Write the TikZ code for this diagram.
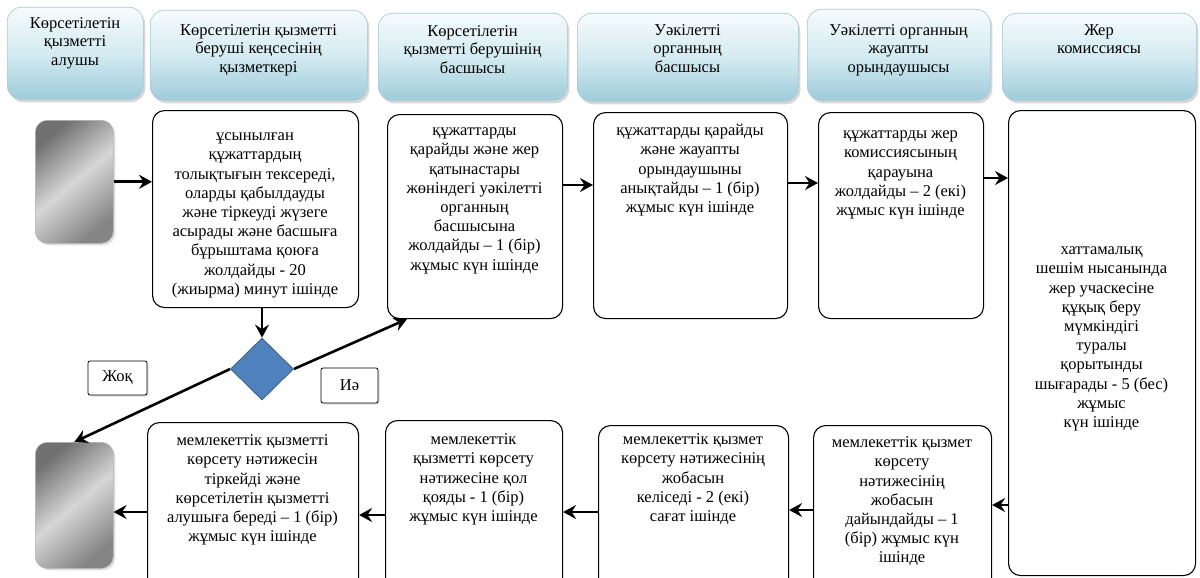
\documentclass[tikz,border=0pt]{standalone}
\usepackage{fontspec}
\setmainfont{Liberation Serif}
\usetikzlibrary{arrows.meta,shapes.geometric,shadows,calc}
\definecolor{hdrtop}{RGB}{246,251,252}
\definecolor{hdrmid}{RGB}{212,235,241}
\definecolor{hdrbot}{RGB}{158,204,218}
\definecolor{hdredge}{RGB}{170,198,208}
\definecolor{dmfill}{RGB}{79,129,189}
\definecolor{dmedge}{RGB}{56,93,138}
\begin{document}
\begin{tikzpicture}[x=1pt,y=-1pt,
  hdr/.style={draw=hdredge, line width=0.6pt, rounded corners=14pt,
    top color=hdrtop, bottom color=hdrbot, middle color=hdrmid,
    drop shadow={shadow xshift=2pt,shadow yshift=-3pt,opacity=0.3},
    anchor=north west, inner sep=0pt},
  bx/.style={draw=black, line width=1.1pt, rounded corners=12pt, fill=white,
    anchor=north west, inner sep=0pt},
  gbox/.style={draw=black!30, line width=0.6pt, rounded corners=12pt,
    top color=black!56, bottom color=black!48, middle color=black!16,
    shading angle=40,
    drop shadow={shadow xshift=2pt,shadow yshift=-2pt,opacity=0.25},
    anchor=north west, inner sep=0pt},
  txt/.style={anchor=north, align=center, inner sep=0pt,
    font=\fontsize{16.5}{19.2}\selectfont},
  htxt/.style={anchor=north, align=center, inner sep=0pt,
    font=\fontsize{16.5}{18.5}\selectfont},
  lbl/.style={draw=black, line width=0.8pt, rounded corners=2pt, fill=white,
    inner sep=0pt, font=\fontsize{16.5}{18}\selectfont,
    drop shadow={shadow xshift=1.5pt,shadow yshift=-1.5pt,opacity=0.25}},
  arr/.style={line width=2.8pt, -{Stealth[length=13pt,width=14pt,inset=4.5pt]}},
  dline/.style={line width=2.6pt, -{Stealth[length=13pt,width=14pt,inset=4.5pt]}}
]
\clip (0,0) rectangle (1200,578);
\fill[white] (0,0) rectangle (1200,578);

% header row
\node[hdr, minimum width=136pt, minimum height=92pt] (h1) at (7,7) {};
\node[hdr, minimum width=217pt, minimum height=90pt] (h2) at (150,10) {};
\node[hdr, minimum width=189pt, minimum height=87pt] (h3) at (378,13) {};
\node[hdr, minimum width=221pt, minimum height=88pt] (h4) at (577,13) {};
\node[hdr, minimum width=183pt, minimum height=91pt] (h5) at (807,9) {};
\node[hdr, minimum width=194pt, minimum height=87pt] (h6) at (1002,13) {};

\node[htxt] (th1) at (75,15) {\strut Көрсетілетін\\қызметті\\алушы};
\node[htxt] (th2) at (258.5,22) {\strut Көрсетілетін қызметті\\беруші кеңсесінің\\қызметкері};
\node[htxt] (th3) at (472.5,23) {\strut Көрсетілетін\\қызметті берушінің\\басшысы};
\node[htxt] (th4) at (687.5,22) {\strut Уәкілетті\\органның\\басшысы};
\node[htxt] (th5) at (898.5,22) {\strut Уәкілетті органның\\жауапты\\орындаушысы};
\node[htxt] (th6) at (1099,22) {\strut Жер\\комиссиясы};

% gray terminals
\node[gbox, minimum width=78pt, minimum height=123pt] (g1) at (35,120) {};
\node[gbox, minimum width=78pt, minimum height=126pt] (g2) at (35,442) {};

% process boxes, row 2
\node[bx, minimum width=206pt, minimum height=197pt] (b1) at (152,110) {};
\node[bx, minimum width=175pt, minimum height=204pt] (b2) at (387,114) {};
\node[bx, minimum width=194pt, minimum height=206pt] (b3) at (593,112) {};
\node[bx, minimum width=165pt, minimum height=206pt] (b4) at (818,112) {};
\node[bx, minimum width=187pt, minimum height=465pt] (b5) at (1008,110) {};

% process boxes, row 3
\node[bx, minimum width=211pt, minimum height=170pt] (c1) at (147,422) {};
\node[bx, minimum width=177pt, minimum height=172pt] (c2) at (385,420) {};
\node[bx, minimum width=190pt, minimum height=167pt] (c3) at (598,425) {};
\node[bx, minimum width=178pt, minimum height=167pt] (c4) at (813,425) {};

% texts
\node[txt] (tb1) at (255,127) {\strut ұсынылған\\құжаттардың\\толықтығын тексереді,\\оларды қабылдауды\\және тіркеуді жүзеге\\асырады және басшыға\\бұрыштама қоюға\\жолдайды - 20\\(жиырма) минут ішінде};
\node[txt] (tb2) at (474.5,122) {\strut құжаттарды\\қарайды және жер\\қатынастары\\жөніндегі уәкілетті\\органның\\басшысына\\жолдайды – 1 (бір)\\жұмыс күн ішінде};
\node[txt] (tb3) at (690,122) {\strut құжаттарды қарайды\\және жауапты\\орындаушыны\\анықтайды – 1 (бір)\\жұмыс күн ішінде};
\node[txt] (tb4) at (900.5,125) {\strut құжаттарды жер\\комиссиясының\\қарауына\\жолдайды – 2 (екі)\\жұмыс күн ішінде};
\node[txt] (tb5) at (1101.5,241) {\strut хаттамалық\\шешім нысанында\\жер учаскесіне\\құқық беру\\мүмкіндігі\\туралы\\қорытынды\\шығарады - 5 (бес)\\жұмыс\\күн ішінде};
\node[txt] (tc1) at (252.5,432) {\strut мемлекеттік қызметті\\көрсету нәтижесін\\тіркейді және\\көрсетілетін қызметті\\алушыға береді – 1 (бір)\\жұмыс күн ішінде};
\node[txt] (tc2) at (473.5,431) {\strut мемлекеттік\\қызметті көрсету\\нәтижесіне қол\\қояды - 1 (бір)\\жұмыс күн ішінде};
\node[txt] (tc3) at (693,431) {\strut мемлекеттік қызмет\\көрсету нәтижесінің\\жобасын\\келіседі - 2 (екі)\\сағат ішінде};
\node[txt] (tc4) at (902,434) {\strut мемлекеттік қызмет\\көрсету\\нәтижесінің\\жобасын\\дайындайды – 1\\(бір) жұмыс күн\\ішінде};

% decision
\node[diamond, draw=dmedge, fill=dmfill, line width=0.8pt, aspect=1,
  minimum width=63pt, minimum height=62pt, inner sep=0pt] (dm) at (262,369) {};
\node[lbl, minimum width=59pt, minimum height=34pt] (no) at (117.5,378) {Жоқ};
\node[lbl, minimum width=57pt, minimum height=35pt] (yes) at (349.5,385.5) {Иә};

% connector anchor points
\coordinate (p23) at ([yshift=-71pt]b2.north east);
\coordinate (p34) at ([yshift=-71pt]b3.north east);
\coordinate (p45) at ([yshift=-66pt]b4.north east);
\coordinate (p5c) at ([yshift=-395pt]b5.north west);
\coordinate (pc43) at ([yshift=-85pt]c4.north west);
\coordinate (pc32) at ([yshift=-87pt]c3.north west);
\coordinate (pc21) at ([yshift=-95pt]c2.north west);
\coordinate (pc1g) at ([yshift=-90pt]c1.north west);
\coordinate (pyes) at ([xshift=20pt]b2.south west);

% connectors
\draw[arr] (g1.east) -- (g1.east -| b1.west);
\draw[arr] (b1.south -| dm.north) -- (dm.north);
\draw[dline] (dm.east) -- (pyes);
\draw[dline] (dm.west) -- (g2.north);
\draw[arr] (p23) -- (p23 -| b3.west);
\draw[arr] (p34) -- (p34 -| b4.west);
\draw[arr] (p45) -- (p45 -| b5.west);
\draw[arr] (p5c) -- (p5c -| c4.east);
\draw[arr] (pc43) -- (pc43 -| c3.east);
\draw[arr] (pc32) -- (pc32 -| c2.east);
\draw[arr] (pc21) -- (pc21 -| c1.east);
\draw[arr] (pc1g) -- (pc1g -| g2.east);
\end{tikzpicture}
\end{document}
